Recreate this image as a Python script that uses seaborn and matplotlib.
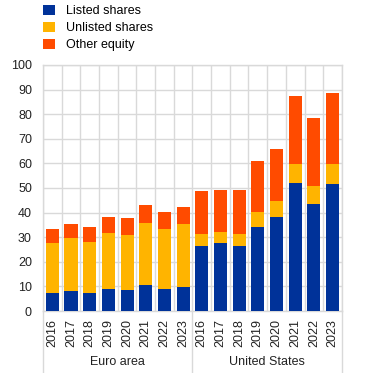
import pandas as pd
import numpy as np
import seaborn as sns
import matplotlib.pyplot as plt
from matplotlib.patches import Patch
from matplotlib.lines import Line2D

years = ["2016", "2017", "2018", "2019", "2020", "2021", "2022", "2023"]
regions = ["Euro area", "United States"]

# values (% of GDP)
ea_listed = [7.3, 8.1, 7.3, 8.9, 8.5, 10.6, 8.9, 9.8]
ea_unlisted = [20.3, 21.6, 20.7, 22.8, 22.4, 25.2, 24.4, 25.6]
ea_other = [5.7, 5.7, 6.1, 6.5, 6.9, 7.3, 6.9, 6.9]

us_listed = [26.4, 27.6, 26.4, 34.1, 38.2, 52.0, 43.5, 51.6]
us_unlisted = [4.9, 4.5, 4.9, 6.1, 6.5, 7.8, 7.3, 8.2]
us_other = [17.5, 17.1, 17.9, 20.8, 21.2, 27.6, 27.7, 28.8]

series = ["Listed shares", "Unlisted shares", "Other equity"]
colors = ["#003299", "#FFB400", "#FF4B00"]

df = pd.DataFrame({
    "region": [regions[0]] * 8 + [regions[1]] * 8,
    "year": years * 2,
    "Listed shares": ea_listed + us_listed,
    "Unlisted shares": ea_unlisted + us_unlisted,
    "Other equity": ea_other + us_other,
})
df["key"] = df["region"] + " " + df["year"]
df["c1"] = df["Listed shares"]
df["c2"] = df["c1"] + df["Unlisted shares"]
df["c3"] = df["c2"] + df["Other equity"]

plt.rcParams["font.family"] = ["Liberation Sans", "DejaVu Sans"]
plt.rcParams["font.size"] = 9

fig = plt.figure(figsize=(3.72, 3.73), dpi=100)
ax = fig.add_axes([0.1156, 0.166, 0.8034, 0.66])

order = list(df["key"])
for col, c in zip(["c3", "c2", "c1"], colors[::-1]):
    sns.barplot(data=df, x="key", y=col, order=order, color=c, width=0.7,
                saturation=1, ax=ax, zorder=3)

grid_c = "#d9d9d9"
ax.set_ylim(0, 100)
ax.set_xlim(-0.5, 15.5)
ax.set_yticks(range(0, 101, 10))
ax.set_xticks(range(16))
ax.set_xticklabels(df["year"], rotation=90)
ax.set_xticks(np.arange(-0.5, 16, 1), minor=True)
ax.tick_params(axis="both", which="both", length=0, colors="#222222")
ax.tick_params(axis="y", pad=8)
ax.tick_params(axis="x", pad=6)
ax.grid(axis="y", color=grid_c, linewidth=1, zorder=0)
ax.grid(axis="x", which="minor", color=grid_c, linewidth=1, zorder=0)
ax.grid(axis="x", which="major", visible=False)
ax.set_axisbelow(True)
for s in ax.spines.values():
    s.set_color(grid_c)
    s.set_linewidth(1)
ax.set_xlabel("")
ax.set_ylabel("")

# group separators below the axis and group labels
for xpos in [-0.5, 7.5, 15.5]:
    ax.add_line(Line2D([xpos, xpos], [0, -0.26], transform=ax.get_xaxis_transform(),
                       color=grid_c, linewidth=1, clip_on=False))
for i, r in enumerate(regions):
    ax.text(3.5 + 8 * i, -0.205, r, transform=ax.get_xaxis_transform(),
            ha="center", va="center", fontsize=9, color="#222222")

handles = [Patch(facecolor=c, edgecolor="none") for c in colors]
fig.legend(handles, series, loc="upper left", bbox_to_anchor=(0.103, 1.0),
           frameon=False, handlelength=0.9, handleheight=0.9, handletextpad=0.9,
           labelspacing=0.35, borderaxespad=0, fontsize=9)

fig.savefig("out.png", dpi=100)
